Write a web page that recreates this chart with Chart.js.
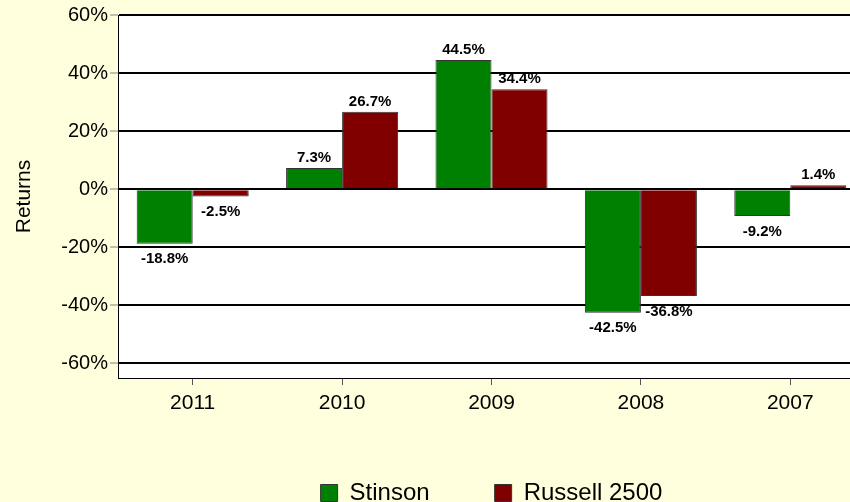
<!DOCTYPE html>
<html>
<head>
<meta charset="utf-8">
<script src="https://cdn.jsdelivr.net/npm/chart.js@4"></script>
<style>
    html, body { margin: 0; padding: 0; background: #FFFFDD; overflow: hidden; }
    #wrap { position: absolute; left: 0; top: 0; width: 865px; height: 515px; }
</style>
</head>
<body>
<div id="wrap"><canvas id="returnsChart"></canvas></div>
<script>
// Chart data
const years = ['2011', '2010', '2009', '2008', '2007'];
const stinson = [-18.8, 7.3, 44.5, -42.5, -9.2];
const russell2500 = [-2.5, 26.7, 34.4, -36.8, 1.4];
const yTicks = [-60, -40, -20, 0, 20, 40, 60];

const FONT = "'Liberation Sans', Arial, sans-serif";

// white plot area on the yellow page
const plotBackground = {
    id: 'plotBackground',
    beforeDraw(chart) {
        const { ctx, chartArea } = chart;
        ctx.save();
        ctx.fillStyle = '#ffffff';
        ctx.fillRect(chartArea.left, chartArea.top, chartArea.right - chartArea.left, chartArea.bottom - chartArea.top);
        ctx.restore();
    }
};

// value labels above / below each bar
const valueLabels = {
    id: 'valueLabels',
    afterDatasetsDraw(chart) {
        const ctx = chart.ctx;
        ctx.save();
        ctx.font = 'bold 15px ' + FONT;
        ctx.fillStyle = '#000';
        ctx.textAlign = 'center';
        chart.data.datasets.forEach((ds, i) => {
            chart.getDatasetMeta(i).data.forEach((bar, j) => {
                const v = ds.data[j];
                const text = v.toFixed(1) + '%';
                if (v >= 0) {
                    ctx.textBaseline = 'alphabetic';
                    ctx.fillText(text, bar.x, bar.y - 6);
                } else {
                    ctx.textBaseline = 'top';
                    ctx.fillText(text, bar.x, bar.y + 8);
                }
            });
        });
        ctx.restore();
    }
};

new Chart(document.getElementById('returnsChart'), {
    type: 'bar',
    data: {
        labels: years,
        datasets: [{
            label: 'Stinson',
            data: stinson,
            backgroundColor: '#008000',
            borderColor: '#333333',
            borderWidth: 1
        }, {
            label: 'Russell 2500',
            data: russell2500,
            backgroundColor: '#800000',
            borderColor: '#333333',
            borderWidth: 1
        }]
    },
    options: {
        responsive: true,
        maintainAspectRatio: false,
        animation: false,
        categoryPercentage: 0.75,
        barPercentage: 1,
        layout: { padding: { top: 15, left: 0, right: 0, bottom: 0 } },
        plugins: {
            tooltip: { enabled: false },
            legend: {
                position: 'bottom',
                fullSize: false,
                labels: {
                    boxWidth: 17,
                    boxHeight: 17,
                    padding: 65,
                    color: '#000',
                    font: { family: FONT, size: 24 }
                }
            }
        },
        scales: {
            x: {
                grid: {
                    display: true,
                    drawOnChartArea: false,
                    offset: false,
                    tickLength: 7,
                    tickColor: '#555'
                },
                border: { display: true, color: '#000', width: 1 },
                ticks: {
                    padding: 6,
                    color: '#000',
                    font: { family: FONT, size: 21 }
                },
                afterFit(scale) { scale.height = 38; }
            },
            y: {
                min: -65,
                max: 60,
                afterBuildTicks(scale) {
                    scale.ticks = yTicks.map(v => ({ value: v }));
                },
                afterFit(scale) { scale.width = 118; },
                grid: {
                    color: '#000',
                    lineWidth: 2,
                    tickLength: 8,
                    tickColor: '#808080',
                    tickWidth: 1
                },
                border: { display: true, color: '#000', width: 1 },
                ticks: {
                    padding: 2,
                    color: '#000',
                    font: { family: FONT, size: 20 },
                    callback: v => v + '%'
                },
                title: {
                    display: true,
                    text: 'Returns',
                    color: '#000',
                    padding: { top: 12, bottom: 0 },
                    font: { family: FONT, size: 21 }
                }
            }
        }
    },
    plugins: [plotBackground, valueLabels]
});
</script>
</body>
</html>
